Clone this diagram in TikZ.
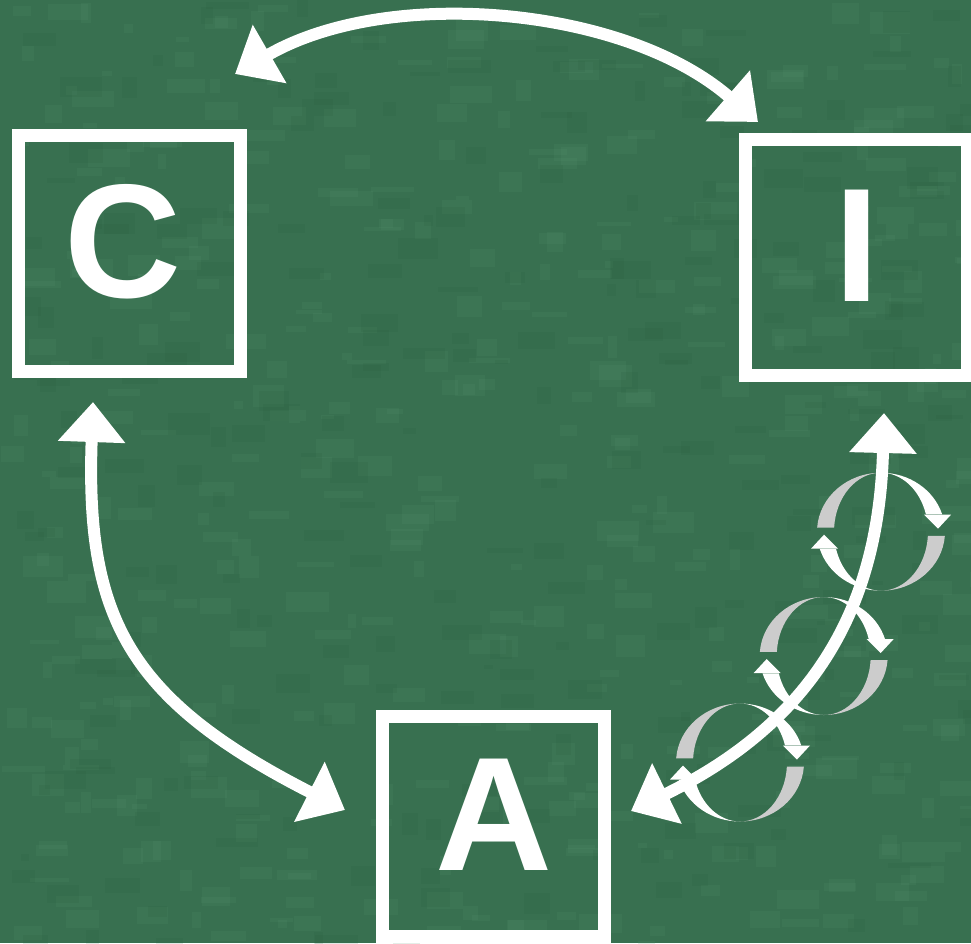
\documentclass[tikz,border=0pt]{standalone}
\usepackage{fontspec}
\setmainfont{Liberation Sans}
\usetikzlibrary{arrows.meta}
\definecolor{board}{RGB}{56,112,80}
\definecolor{chalk}{RGB}{86,148,110}
\definecolor{smudge}{RGB}{40,92,62}
\definecolor{ribbon}{RGB}{204,204,204}
\tikzset{
	box/.style={draw=white, line width=13pt, minimum width=222pt, minimum height=236pt, inner sep=0pt,
		text=white, font=\bfseries\fontsize{162}{162}\selectfont, text height=106pt, text depth=18pt},
	link/.style={draw=white, line width=12pt, >={Triangle[length=40pt,width=65pt]}, <->},
}
\begin{document}
\begin{tikzpicture}[x=1pt,y=1pt]
		\useasboundingbox (0,0) rectangle (971,-943);
		\clip (0,0) rectangle (971,-943);
		\fill[board] (0,0) rectangle (971,-943);
		\pgfmathsetseed{42}
		\foreach \i in {1,...,450}
			\fill[chalk, opacity=0.16] ({971*rnd},{-943*rnd}) rectangle ++({8+35*rnd},{-4-18*rnd});
		\foreach \i in {1,...,250}
			\fill[smudge, opacity=0.14] ({971*rnd},{-943*rnd}) rectangle ++({8+35*rnd},{-4-18*rnd});

		\node[box] (C) at (129.5,-253.5) {\hspace*{-14pt}C};
		\node[box] (I) at (856.5,-257.5) {I};
		\node[box, minimum height=220pt] (A) at (493.5,-826) {A};

		\coordinate (ci) at ([shift={(-12,55)}]C.north east);
		\coordinate (ic) at ([shift={(19,11)}]I.north west);
		\coordinate (ca) at ([shift={(-36.5,-24)}]C.south);
		\coordinate (ac) at ([shift={(-31,16)}]A.west);
		\coordinate (ia) at ([shift={(27.5,-31)}]I.south);
		\coordinate (ai) at ([shift={(20,15)}]A.east);

		\foreach \cx/\cy in {881/531.7, 823.7/656, 740/762.5}{
		\begin{scope}[shift={(\cx,-\cy)}]
			\fill[ribbon] (90:64 and 59) arc[start angle=90, end angle=176, x radius=64, y radius=59]
				-- (176:47 and 59) arc[start angle=176, end angle=90, x radius=47, y radius=59] -- cycle;
			\fill[ribbon] (-4:64 and 59) arc[start angle=-4, end angle=-90, x radius=64, y radius=59]
				-- (-90:47 and 59) arc[start angle=-90, end angle=-4, x radius=47, y radius=59] -- cycle;
			\fill[white] (90:64 and 59) arc[start angle=90, end angle=17, x radius=64, y radius=59]
				-- (17:47 and 59) arc[start angle=17, end angle=90, x radius=47, y radius=59] -- cycle;
			\fill[white] (270:64 and 59) arc[start angle=270, end angle=197, x radius=64, y radius=59]
				-- (197:47 and 59) arc[start angle=197, end angle=270, x radius=47, y radius=59] -- cycle;
			\fill[white] (43,17) -- (70,17) -- (57,3) -- cycle;
			\fill[white] (-43,-17) -- (-70,-17) -- (-57,-3) -- cycle;
		\end{scope}
		}

		\draw[link] (ci) to[out=30, in=139, looseness=0.86] (ic);
		\draw[link] (ca) to[out=268, in=153, out looseness=1.15, in looseness=1.3] (ac);
		\draw[link] (ia) to[out=268.5, in=26, out looseness=1, in looseness=1.15] (ai);
	\end{tikzpicture}
\end{document}
